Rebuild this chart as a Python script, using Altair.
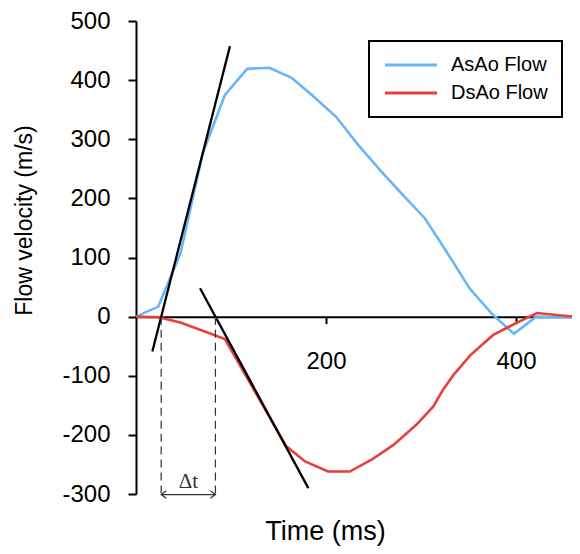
import altair as alt
import pandas as pd

# ---- data ----
series_names = ["AsAo Flow", "DsAo Flow"]
series_colors = ["#6ab4f8", "#e5413a"]

t_asao = [0, 23.4, 46.8, 70.2, 93.6, 117, 140.4, 163.8, 187.2, 210.6, 234, 257.4,
          280.8, 304.2, 327.6, 351, 374.4, 397.8, 421.2, 444.6, 467.4]
v_asao = [0, 17, 107, 276, 375, 419, 421, 404, 372, 338, 290, 247,
          206, 166, 108, 48, 5, -29, 0, -1, -1]

t_dsao = [0, 23.4, 46.8, 70.2, 93.6, 158, 178, 202, 225, 248, 271, 295,
          313, 323, 334, 352, 376, 400, 422, 467.4]
v_dsao = [0, -1, -10, -24, -38, -219, -245, -262, -262, -242, -217, -183,
          -152, -124, -99, -65, -31, -11, 6, -1]

# tangent lines (two end points each)
tan_id = ["a", "a", "b", "b"]
tan_t = [17.2, 98.9, 67.4, 181.4]
tan_v = [-59, 457.5, 48, -290]

# delta-t annotation
dt_start = 26.5
dt_end = 83.6
dt_top = 0
dt_bottom = -305
arrow_v = -301
dt_label_v = -290
dt_label = "Δt"

x_ticks = [200, 400]
y_ticks = [-300, -200, -100, 0, 100, 200, 300, 400, 500]
x_domain = [0, 458.9]
y_domain = [-300, 500]

W, H = 436, 473
FONT = "Liberation Sans"

flow_df = pd.DataFrame(
    {"t": t_asao + t_dsao,
     "v": v_asao + v_dsao,
     "series": [series_names[0]] * len(t_asao) + [series_names[1]] * len(t_dsao)}
)
tan_df = pd.DataFrame({"id": tan_id, "t": tan_t, "v": tan_v})
dash_df = pd.DataFrame({"t": [dt_start, dt_end], "v": [dt_top] * 2, "v2": [dt_bottom] * 2})
arrow_df = pd.DataFrame({"t": [dt_start], "t2": [dt_end], "v": [arrow_v]})
label_df = pd.DataFrame({"t": [(dt_start + dt_end) / 2], "v": [dt_label_v], "txt": [dt_label]})
left_head = pd.DataFrame({"t": [dt_start], "v": [arrow_v]})
right_head = pd.DataFrame({"t": [dt_end], "v": [arrow_v]})

xscale = alt.Scale(domain=x_domain, nice=False, zero=False)
yscale = alt.Scale(domain=y_domain, nice=False, zero=False)

x_axis = alt.Axis(
    values=x_ticks, grid=False, offset=-H * 300 / 800,
    domainColor="black", domainWidth=2, tickColor="black", tickWidth=2, tickSize=7,
    labelFont=FONT, labelFontSize=24, labelColor="black", labelPadding=26,
    title="Time (ms)", titleFont=FONT, titleFontSize=27, titleFontWeight="normal",
    titleColor="black", titleX=189, titleY=223, titleAlign="center",
    titleBaseline="alphabetic", titleAnchor="start",
)
y_axis = alt.Axis(
    values=y_ticks, grid=False, labelExpr="'' + datum.value",
    domainColor="black", domainWidth=2, tickColor="black", tickWidth=2, tickSize=8,
    labelFont=FONT, labelFontSize=24, labelColor="black", labelPadding=18,
    title="Flow velocity (m/s)", titleFont=FONT, titleFontSize=23, titleFontWeight="normal",
    titleColor="black", titleX=-105, titleY=199, titleAngle=270, titleAlign="center",
    titleBaseline="alphabetic", titleAnchor="start",
)

flows = alt.Chart(flow_df).mark_line(strokeWidth=2.6, clip=True).encode(
    x=alt.X("t:Q", scale=xscale, axis=x_axis),
    y=alt.Y("v:Q", scale=yscale, axis=y_axis),
    color=alt.Color(
        "series:N",
        scale=alt.Scale(domain=series_names, range=series_colors),
        legend=alt.Legend(
            title=None, orient="none", legendX=233, legendY=20,
            strokeColor="black", padding=14,
            symbolType="M-5.2,0L5.2,0", symbolSize=100, symbolStrokeWidth=3,
            symbolOffset=18,
            labelFont=FONT, labelFontSize=20, labelColor="black", labelOffset=30,
            rowPadding=8,
        ),
    ),
    order=alt.Order("t:Q"),
)

tangents = alt.Chart(tan_df).mark_line(color="black", strokeWidth=2.3).encode(
    x=alt.X("t:Q", scale=xscale), y=alt.Y("v:Q", scale=yscale), detail="id:N"
)

dashes = alt.Chart(dash_df).mark_rule(color="#333333", strokeWidth=1.2, strokeDash=[8, 5]).encode(
    x=alt.X("t:Q", scale=xscale), y=alt.Y("v:Q", scale=yscale), y2="v2:Q"
)

arrow = alt.Chart(arrow_df).mark_rule(color="#333333", strokeWidth=1.2).encode(
    x=alt.X("t:Q", scale=xscale), x2="t2:Q", y=alt.Y("v:Q", scale=yscale)
)

lhead = alt.Chart(left_head).mark_point(
    shape="M1,-0.75L0,0L1,0.75", size=100, filled=False, color="#333333", strokeWidth=1.2, opacity=1
).encode(x=alt.X("t:Q", scale=xscale), y=alt.Y("v:Q", scale=yscale))

rhead = alt.Chart(right_head).mark_point(
    shape="M-1,-0.75L0,0L-1,0.75", size=100, filled=False, color="#333333", strokeWidth=1.2, opacity=1
).encode(x=alt.X("t:Q", scale=xscale), y=alt.Y("v:Q", scale=yscale))

label = alt.Chart(label_df).mark_text(
    font="Liberation Serif", fontSize=21, color="#333333", baseline="alphabetic", align="center"
).encode(x=alt.X("t:Q", scale=xscale), y=alt.Y("v:Q", scale=yscale), text="txt:N")

chart = alt.layer(flows, tangents, dashes, arrow, lhead, rhead, label).properties(
    width=W, height=H,
    autosize=alt.AutoSizeParams(type="none"),
    padding={"left": 128, "top": 13, "right": 0, "bottom": 52},
).configure_view(stroke="transparent").configure_legend(strokeWidth=2)

chart.save("out.html", embed_options={"renderer": "svg", "actions": False})
